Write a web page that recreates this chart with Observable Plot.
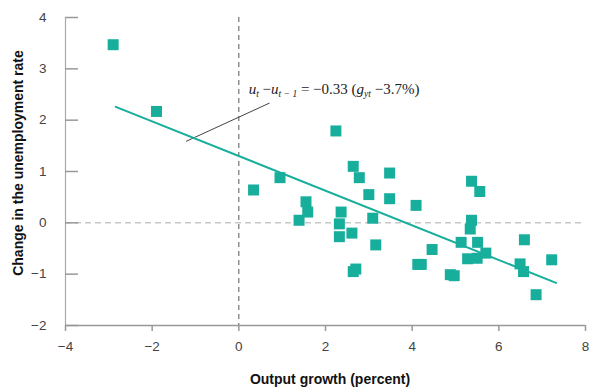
<!DOCTYPE html>
<html><head><meta charset="utf-8">
<script src="https://cdn.jsdelivr.net/npm/d3@7"></script>
<script src="https://cdn.jsdelivr.net/npm/@observablehq/plot@0.6"></script>
<style>
body{margin:0;background:#fff;}
svg{font-family:"Liberation Sans",Arial,sans-serif;}
</style></head>
<body><div id="chart"></div>
<script>
// Data
const growth = [-2.9,-1.9,0.34,0.95,1.39,1.55,1.59,2.24,2.36,2.32,2.32,2.61,2.64,2.78,2.70,2.64,3.0,3.09,3.16,3.48,3.48,4.09,4.13,4.21,4.46,4.88,4.97,5.13,5.28,5.37,5.56,5.37,5.34,5.51,5.5,5.7,6.49,6.57,6.59,6.86,7.22];
const unempChange = [3.47,2.17,0.64,0.88,0.05,0.41,0.21,1.79,0.21,-0.02,-0.27,-0.20,1.10,0.88,-0.90,-0.95,0.55,0.09,-0.43,0.97,0.47,0.34,-0.81,-0.81,-0.52,-1.01,-1.03,-0.38,-0.70,0.81,0.61,0.05,-0.12,-0.38,-0.69,-0.59,-0.80,-0.95,-0.33,-1.40,-0.72];
const fitX = [-2.84, 7.32];
const fitY = [2.26, -1.17];
const pointerX = [-1.21, 0.70];
const pointerY = [1.59, 2.33];
const xTicks = [-4,-2,0,2,4,6,8];
const yTicks = [-2,-1,0,1,2,3,4];
const xTitle = "Output growth (percent)";
const yTitle = "Change in the unemployment rate";

const points = growth.map((g,i)=>({g, u: unempChange[i]}));
const fit = fitX.map((x,i)=>({x, y: fitY[i]}));
const pointer = pointerX.map((x,i)=>({x, y: pointerY[i]}));
const teal = "#17ae9c";
const minus = d => d < 0 ? "\u2212" + Math.abs(d) : String(d);

const chart = Plot.plot({
  width: 590, height: 392,
  marginLeft: 65, marginRight: 5, marginTop: 17, marginBottom: 67,
  x: {domain: [-4, 8]},
  y: {domain: [-2, 4]},
  style: {fontFamily: "Liberation Sans, Arial, sans-serif", fontSize: "13.5px", color: "#444"},
  marks: [
    Plot.ruleY([0], {stroke: "#c8c8c8", strokeWidth: 1.5, strokeDasharray: "6,4"}),
    Plot.ruleX([0], {stroke: "#555", strokeWidth: 1, strokeDasharray: "5,4"}),
    Plot.ruleX([-4], {stroke: "#aaa", strokeWidth: 1.2}),
    Plot.ruleY([-2], {stroke: "#999", strokeWidth: 1.5}),
    Plot.axisY({ticks: yTicks, tickSize: 0, tickPadding: 19, tickFormat: minus, label: null, stroke: "#999", fill: "#444"}),
    Plot.axisY({ticks: yTicks, tickSize: -13, text: null, label: null, stroke: "#999", strokeWidth: 1.5}),
    Plot.axisX({ticks: xTicks, tickSize: 6, tickPadding: 10, tickFormat: minus, label: null, stroke: "#999", strokeWidth: 1.5, fill: "#444"}),
    Plot.line(pointer, {x: "x", y: "y", stroke: "#444", strokeWidth: 1}),
    Plot.line(fit, {x: "x", y: "y", stroke: teal, strokeWidth: 2}),
    Plot.dot(points, {x: "g", y: "u", symbol: "square", r: 6.2, fill: teal, stroke: "none"})
  ]
});
document.getElementById("chart").appendChild(chart);

const svg = d3.select(chart);
const sx = chart.scale("x"), sy = chart.scale("y");
// axis titles
svg.append("text").attr("x", 330).attr("y", 384).attr("text-anchor", "middle")
  .attr("font-weight", "bold").attr("font-size", 14).attr("fill", "#111").text(xTitle);
svg.append("text").attr("transform", "translate(23,163) rotate(-90)").attr("text-anchor", "middle")
  .attr("font-weight", "bold").attr("font-size", 14).attr("fill", "#111").text(yTitle);
// annotation equation
const eq = svg.append("text").attr("x", sx.apply(0.24)).attr("y", sy.apply(2.5))
  .attr("text-anchor", "start")
  .attr("font-family", "Liberation Serif, Times New Roman, serif").attr("font-size", 15).attr("fill", "#222");
eq.append("tspan").attr("font-style", "italic").text("u");
eq.append("tspan").attr("font-style", "italic").attr("font-size", 9.5).attr("dy", 3).text("t");
eq.append("tspan").attr("dy", -3).text(" \u2212");
eq.append("tspan").attr("font-style", "italic").text("u");
eq.append("tspan").attr("font-style", "italic").attr("font-size", 9.5).attr("dy", 3).text("t \u2212 1");
eq.append("tspan").attr("dy", -3).text(" = \u22120.33 (");
eq.append("tspan").attr("font-style", "italic").text("g");
eq.append("tspan").attr("font-style", "italic").attr("font-size", 9.5).attr("dy", 3).text("yt");
eq.append("tspan").attr("dy", -3).text(" \u22123.7%)");
</script></body></html>
